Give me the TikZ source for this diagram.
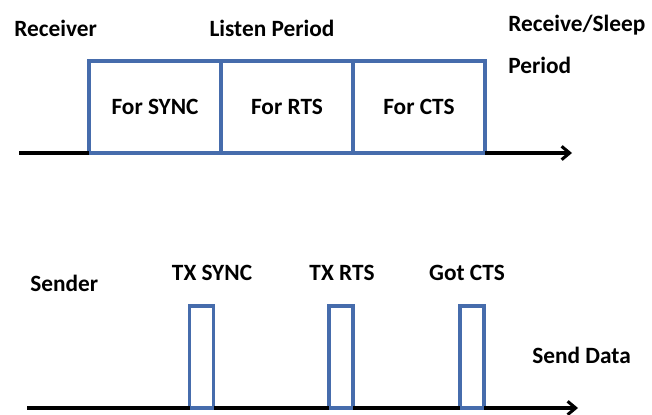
\documentclass[tikz,border=0pt]{standalone}
\usepackage{fontspec}
\setmainfont{Carlito}
\usetikzlibrary{arrows.meta}

\definecolor{slotblue}{RGB}{70,108,172}

\begin{document}
\begin{tikzpicture}
[
x=0.75pt, y=-0.75pt,
every node/.style={font=\fontsize{17.5}{19}\selectfont\bfseries},
slot/.style={draw=slotblue, line width=2.3pt, minimum width=99pt, minimum height=69pt, inner sep=0pt, outer sep=0pt},
pulse/.style={draw=slotblue, line width=2.3pt, minimum width=18pt, minimum height=76.5pt, inner sep=0pt, outer sep=0pt},
timeline/.style={draw=black, line width=2.3pt},
label/.style={inner sep=0pt, anchor=west}
]
\useasboundingbox (0,0) rectangle (652,414);

% receiver
\node[slot] (sync) at (155,107) {For SYNC};
\node[slot] (rts)  at (287,107) {For RTS};
\node[slot] (cts)  at (419,107) {For CTS};
\coordinate (rxstart) at (19,153);
\coordinate (rxend) at (572,153);

\node[label] (receiver) at (14,28) {Receiver};
\node[label, anchor=center] (listen) at (272,28) {Listen Period};
\node[label] (sleep) at (508,25) {Receive/Sleep};
\node[label] (period) at (508,65) {Period};

\path[timeline]
(rxstart) edge (sync.south west)
(cts.south east) edge[-{Straight Barb[length=6pt,width=10pt]}] (rxend);

% sender
\node[pulse] (p1) at (201.5,357) {};
\node[pulse] (p2) at (341,357) {};
\node[pulse] (p3) at (472,357) {};
\coordinate (txstart) at (27,408);
\coordinate (txend) at (578,408);

\node[label] (sender) at (30,283) {Sender};
\node[label, anchor=center] (txsync) at (212,273) {TX SYNC};
\node[label, anchor=center] (txrts) at (342,273) {TX RTS};
\node[label, anchor=center] (gotcts) at (467,273) {Got CTS};
\node[label] (senddata) at (532,355) {Send Data};

\path[timeline]
(txstart) edge (p1.south west)
(p1.south east) edge (p2.south west)
(p2.south east) edge (p3.south west)
(p3.south east) edge[-{Straight Barb[length=6pt,width=10pt]}] (txend);
\end{tikzpicture}
\end{document}
